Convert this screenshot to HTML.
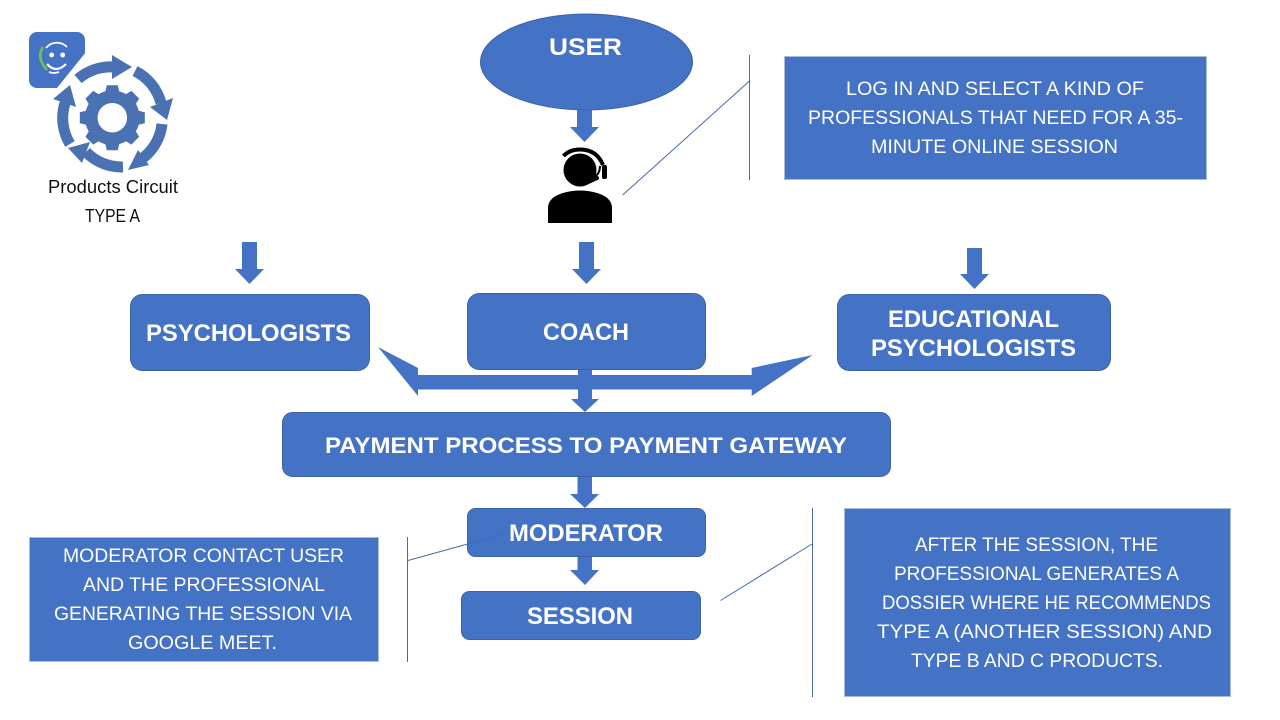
<!DOCTYPE html>
<html><head><meta charset="utf-8"><style>
html,body{margin:0;padding:0;background:#fff}
svg{display:block}
.b{font-family:"Liberation Sans",sans-serif;font-weight:bold;fill:#fff;font-size:24px}
.c{font-family:"Liberation Sans",sans-serif;fill:#fff;font-size:19px}
.k{font-family:"Liberation Sans",sans-serif;fill:#111;font-size:18px}
</style></head><body>
<svg width="1280" height="720" viewBox="0 0 1280 720" xmlns="http://www.w3.org/2000/svg">
<rect width="1280" height="720" fill="#fff"/>

<!-- logo -->
<rect x="29" y="32" width="56" height="56" rx="8" fill="#4472C4"/>
<polygon points="86,52 57,88 90,92" fill="#fff"/>
<path d="M46 48 A14 14 0 0 1 67 47" fill="none" stroke="#fff" stroke-width="1.8"/>
<path d="M43 47 Q36 58 47 70" fill="none" stroke="#6fc04a" stroke-width="2.8"/>
<path d="M49 72 Q54 74 59 72" fill="none" stroke="#fff" stroke-width="1.8"/>
<circle cx="51.7" cy="55" r="2.4" fill="#fff"/>
<circle cx="62.7" cy="55" r="2.4" fill="#fff"/>
<path d="M47 64 Q56 74 66 64" fill="none" stroke="#fff" stroke-width="2.2"/>

<!-- gear -->
<g fill="#4A72B2">
<circle cx="112.3" cy="117.7" r="21" fill="none" stroke="#4A72B2" stroke-width="12.5"/>
<g transform="translate(112.3 117.7)">
<polygon points="-7.5,-24 -5.5,-32.5 5.5,-32.5 7.5,-24"/>
<polygon points="-7.5,-24 -5.5,-32.5 5.5,-32.5 7.5,-24" transform="rotate(45)"/>
<polygon points="-7.5,-24 -5.5,-32.5 5.5,-32.5 7.5,-24" transform="rotate(90)"/>
<polygon points="-7.5,-24 -5.5,-32.5 5.5,-32.5 7.5,-24" transform="rotate(135)"/>
<polygon points="-7.5,-24 -5.5,-32.5 5.5,-32.5 7.5,-24" transform="rotate(180)"/>
<polygon points="-7.5,-24 -5.5,-32.5 5.5,-32.5 7.5,-24" transform="rotate(225)"/>
<polygon points="-7.5,-24 -5.5,-32.5 5.5,-32.5 7.5,-24" transform="rotate(270)"/>
<polygon points="-7.5,-24 -5.5,-32.5 5.5,-32.5 7.5,-24" transform="rotate(315)"/>
</g>
<!-- circular arrows -->
<polygon points="112,55 132,67 112,79"/>
<polygon points="150,107 173,98 167,120"/>
<polygon points="138,150 149,165 128,170"/>
<polygon points="90,142 82,163 68,148"/>
<polygon points="53,99 76,107 70,85"/>
</g>
<g fill="none" stroke="#4A72B2" stroke-width="11">
<path d="M78 79 A50 50 0 0 1 114 67"/>
<path d="M135 71 A50 50 0 0 1 161 103"/>
<path d="M162 124 A50 50 0 0 1 143 158"/>
<path d="M123 167 A50 50 0 0 1 86 152"/>
<path d="M70 144 A50 50 0 0 1 65 103"/>
</g>
<text class="k" x="48" y="193" textLength="130" lengthAdjust="spacingAndGlyphs">Products Circuit</text>
<text class="k" x="85" y="222" textLength="55" lengthAdjust="spacingAndGlyphs">TYPE A</text>

<!-- user ellipse -->
<ellipse cx="586.5" cy="62" rx="106" ry="48" fill="#4472C4" stroke="#3C63A8" stroke-width="1"/>
<text class="b" x="549" y="55" textLength="73" lengthAdjust="spacingAndGlyphs">USER</text>

<!-- arrows -->
<g fill="#4472C4">
<polygon points="577,110 592,110 592,127 599,127 584.5,142 570,127 577,127"/>
<polygon points="579,242 594,242 594,269 601,269 586.5,284 572,269 579,269"/>
<polygon points="242,242 257,242 257,269 264,269 249.5,284 235,269 242,269"/>
<polygon points="967,248 982,248 982,274 989,274 974.5,289 960,274 967,274"/>
<polygon points="577.5,476 592,476 592,494 599,494 585,508 570,494 577.5,494"/>
<polygon points="577.5,557 592,557 592,570 599,570 585,585 570,570 577.5,570"/>
<!-- cross arrow -->
<polygon points="378,347 418,368 418,375 578,375 578,370 592,370 592,375 751.7,375 751.7,368 812.7,355 751.7,396 751.7,389.5 592,389.5 592,399 599,399 585,412 571,399 578,399 578,389.5 418,389.5 418,396"/>
</g>

<!-- person -->
<circle cx="580" cy="170" r="16.5" fill="#000"/>
<path d="M563.5 156 Q570 149 581 149.5 Q597 150 603 165" fill="none" stroke="#000" stroke-width="4"/>
<path d="M600 166 Q600 176 590 179" fill="none" stroke="#000" stroke-width="2"/>
<path d="M586 183 L597 178" fill="none" stroke="#000" stroke-width="4" stroke-linecap="round"/>
<rect x="602" y="165" width="5" height="14" rx="2" fill="#000"/>
<path d="M548 223 L548 207 Q549 197 563 193 Q580 188 597 193 Q611 197 612 207 L612 223 Z" fill="#000"/>

<!-- boxes -->
<g fill="#4472C4" stroke="#3C63A8" stroke-width="1">
<rect x="130.5" y="294.5" width="239" height="76" rx="12"/>
<rect x="467.5" y="293.5" width="238" height="76" rx="12"/>
<rect x="837.5" y="294.5" width="273" height="76" rx="12"/>
<rect x="282.5" y="412.5" width="608" height="64" rx="10"/>
<rect x="467.5" y="508.5" width="238" height="48" rx="8"/>
<rect x="461.5" y="591.5" width="239" height="48" rx="8"/>
</g>
<text class="b" x="146" y="341" textLength="205" lengthAdjust="spacingAndGlyphs">PSYCHOLOGISTS</text>
<text class="b" x="543" y="340" textLength="86" lengthAdjust="spacingAndGlyphs">COACH</text>
<text class="b" x="888" y="327" textLength="171" lengthAdjust="spacingAndGlyphs">EDUCATIONAL</text>
<text class="b" x="871" y="356" textLength="205" lengthAdjust="spacingAndGlyphs">PSYCHOLOGISTS</text>
<text class="b" style="font-size:22px" x="325" y="453" textLength="522" lengthAdjust="spacingAndGlyphs">PAYMENT PROCESS TO PAYMENT GATEWAY</text>
<text class="b" x="509" y="541" textLength="154" lengthAdjust="spacingAndGlyphs">MODERATOR</text>
<text class="b" x="527" y="624" textLength="106" lengthAdjust="spacingAndGlyphs">SESSION</text>

<!-- callouts -->
<g fill="#4472C4" stroke="#A9BCE0" stroke-width="1">
<rect x="784.5" y="56.5" width="422" height="123"/>
<rect x="29.5" y="537.5" width="349" height="124"/>
<rect x="844.5" y="508.5" width="386" height="188"/>
</g>
<g fill="none" stroke="#4A6AA5" stroke-width="1">
<path d="M749.5 55V180M749.5 81L622.7 195"/>
<path d="M407.5 537V662M408 560.5L502 534.5"/>
<path d="M812.5 508V697M812 544L720.5 600.5"/>
</g>
<text class="c" x="846" y="95" textLength="298" lengthAdjust="spacingAndGlyphs">LOG IN AND SELECT A KIND OF</text>
<text class="c" x="808" y="124" textLength="375" lengthAdjust="spacingAndGlyphs">PROFESSIONALS THAT NEED FOR A 35-</text>
<text class="c" x="871" y="153" textLength="247" lengthAdjust="spacingAndGlyphs">MINUTE ONLINE SESSION</text>

<text class="c" x="63" y="562" textLength="281" lengthAdjust="spacingAndGlyphs">MODERATOR CONTACT USER</text>
<text class="c" x="83" y="591" textLength="242" lengthAdjust="spacingAndGlyphs">AND THE PROFESSIONAL</text>
<text class="c" x="54" y="620" textLength="298" lengthAdjust="spacingAndGlyphs">GENERATING THE SESSION VIA</text>
<text class="c" x="128" y="649" textLength="149" lengthAdjust="spacingAndGlyphs">GOOGLE MEET.</text>

<text class="c" x="915" y="551" textLength="243" lengthAdjust="spacingAndGlyphs">AFTER THE SESSION, THE</text>
<text class="c" x="894" y="580" textLength="285" lengthAdjust="spacingAndGlyphs">PROFESSIONAL GENERATES A</text>
<text class="c" x="882" y="609" textLength="329" lengthAdjust="spacingAndGlyphs">DOSSIER WHERE HE RECOMMENDS</text>
<text class="c" x="877" y="638" textLength="335" lengthAdjust="spacingAndGlyphs">TYPE A (ANOTHER SESSION) AND</text>
<text class="c" x="911" y="667" textLength="252" lengthAdjust="spacingAndGlyphs">TYPE B AND C PRODUCTS.</text>
</svg>
</body></html>
